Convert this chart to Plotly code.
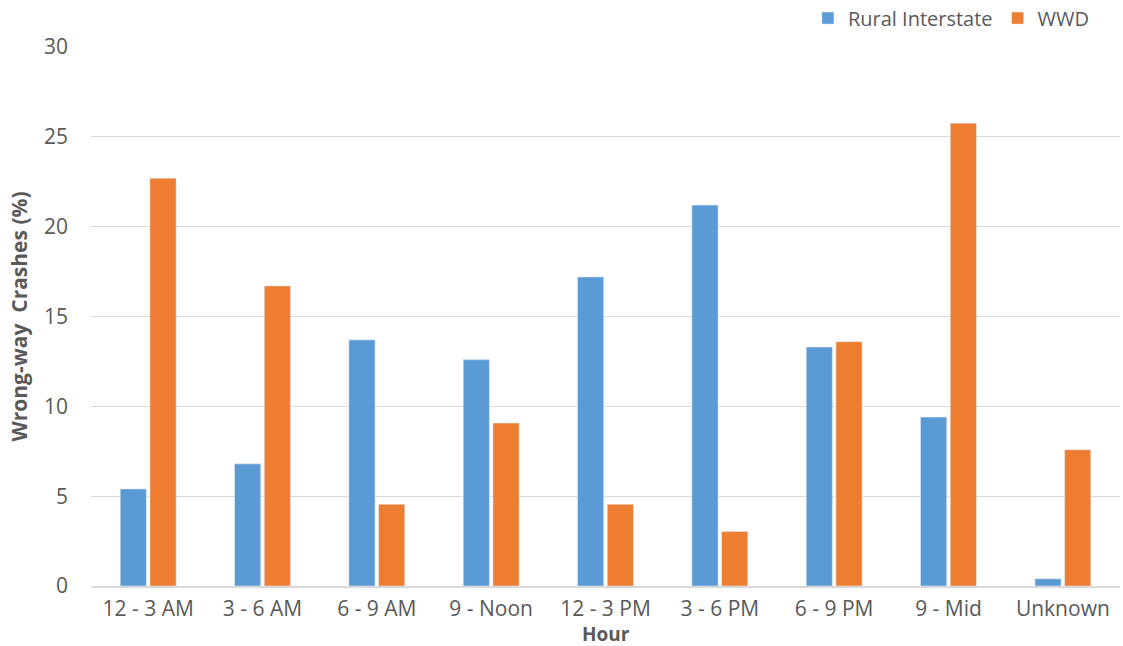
import plotly.graph_objects as go

categories = ["12 - 3 AM", "3 - 6 AM", "6 - 9 AM", "9 - Noon", "12 - 3 PM",
              "3 - 6 PM", "6 - 9 PM", "9 - Mid", "Unknown"]
rural_interstate = [5.4, 6.8, 13.7, 12.6, 17.2, 21.2, 13.3, 9.4, 0.4]
wwd = [22.7, 16.7, 4.55, 9.07, 4.55, 3.03, 13.6, 25.76, 7.58]

fig = go.Figure()
fig.add_trace(go.Bar(x=categories, y=rural_interstate, name="Rural Interstate",
                     marker_color="#5B9BD5"))
fig.add_trace(go.Bar(x=categories, y=wwd, name="WWD", marker_color="#ED7D31"))

font_family = "Open Sans, Noto Sans, sans-serif"
fig.update_layout(
    width=1123, height=646,
    margin=dict(l=91, r=3, t=47, b=60, autoexpand=False),
    paper_bgcolor="white", plot_bgcolor="white",
    barmode="group", bargap=0.48, bargroupgap=0.12,
    font=dict(family=font_family, color="#595959", size=21),
    legend=dict(orientation="h", x=0.975, xanchor="right", xref="container",
                y=0.972, yanchor="middle", yref="container",
                font=dict(size=20, color="#595959"), traceorder="normal"),
    xaxis=dict(
        showline=True, linecolor="#D9D9D9", linewidth=2, ticks="",
        tickfont=dict(size=21, color="#595959"), automargin=False,
        ticklabelstandoff=3,
    ),
    yaxis=dict(
        title=dict(text="<b>Wrong-way  Crashes (%)</b>", font=dict(size=21, color="#595959"), standoff=10),
        range=[0, 30], dtick=5, showgrid=True, gridcolor="#D9D9D9", gridwidth=1,
        zeroline=False, tickfont=dict(size=21, color="#595959"), ticks="",
        automargin=False, ticklabelstandoff=22,
    ),
    annotations=[dict(text="<b>Hour</b>", xref="paper", yref="paper", x=0.5, y=-0.0895,
                      xanchor="center", yanchor="middle", showarrow=False,
                      font=dict(size=19, color="#595959"))],
)
fig.write_html("out.html", config={"displayModeBar": False},
               post_script="document.body.style.margin='0';document.body.style.padding='0';")
